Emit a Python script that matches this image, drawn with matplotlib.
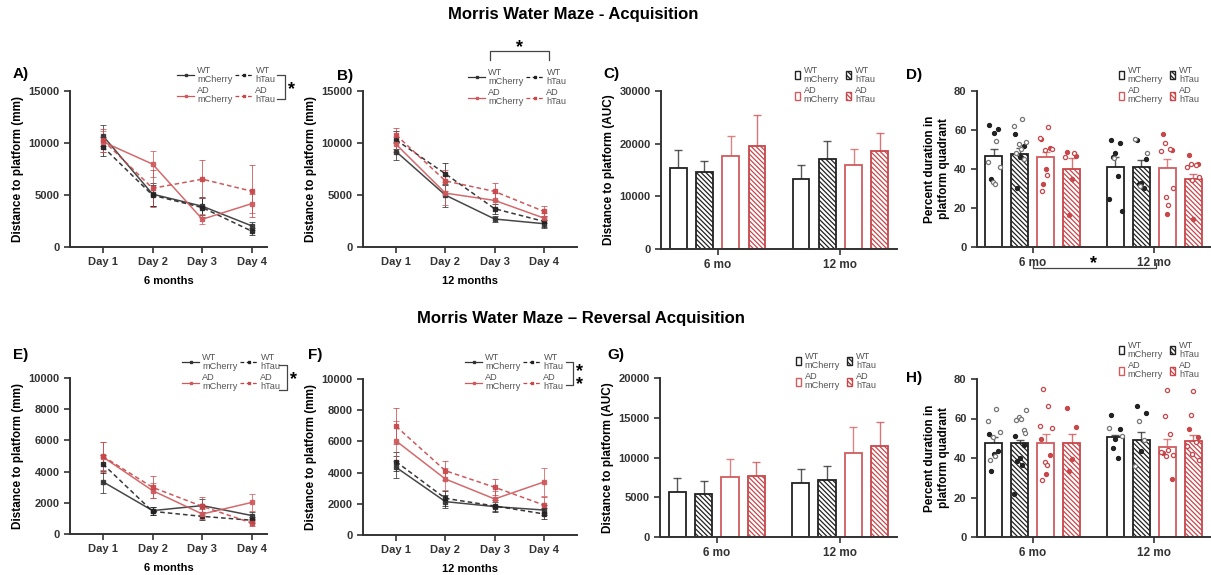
import numpy as np
import matplotlib
matplotlib.use('Agg')
import matplotlib.pyplot as plt
from matplotlib.lines import Line2D
from matplotlib.patches import Patch

plt.rcParams['font.family'] = ['Liberation Sans', 'DejaVu Sans']
plt.rcParams['hatch.linewidth'] = 0.9

W, H = 1211, 575

# ---- data ----
DAYS = ['Day 1', 'Day 2', 'Day 3', 'Day 4']
AGES = ['6 mo', '12 mo']
SERIES = ['WT mCherry', 'WT hTau', 'AD mCherry', 'AD hTau']

# acquisition, 6 months (A)
A_MEANS = [[10700, 5080, 3920, 2020],
           [9640, 4980, 3790, 1510],
           [10120, 7970, 2670, 4180],
           [10280, 5650, 6520, 5360]]
A_ERRS = [[1000, 1100, 850, 400],
          [900, 1000, 900, 350],
          [1000, 1250, 500, 950],
          [1100, 1800, 1800, 2500]]
# acquisition, 12 months (B)
B_MEANS = [[9180, 4990, 2690, 2240],
           [10300, 7040, 3680, 2460],
           [9880, 5180, 4480, 2780],
           [10780, 6360, 5340, 3420]]
B_ERRS = [[800, 1100, 300, 400],
          [900, 1050, 500, 500],
          [700, 1100, 700, 500],
          [700, 1000, 800, 500]]
# AUC (C)
C_MEANS_6 = [15290, 14530, 17750, 19650]
C_ERRS_6 = [3600, 2200, 3800, 5700]
C_MEANS_12 = [13270, 17060, 15860, 18700]
C_ERRS_12 = [2700, 3540, 3220, 3280]
# probe (D)
D_MEANS_6 = [46.6, 47.9, 45.9, 39.9]
D_ERRS_6 = [3.9, 3.0, 2.9, 5.5]
D_MEANS_12 = [40.8, 41.1, 40.6, 34.9]
D_ERRS_12 = [5.1, 3.4, 4.3, 2.6]
D_FILLED_6 = [[62.5, 60.5, 58.6, 34.8], [58, 52, 46, 30],
              [55.6, 50.8, 40.2, 32.4], [48.8, 46.7, 35.1, 16.3]]
D_OPEN_6 = [[54.5, 43.7, 41.1, 33.4, 32.2], [65.4, 62, 54, 52.7, 50, 48, 45],
            [61.6, 56, 50.2, 49.6, 36.8, 28.8], [48, 46.2]]
D_FILLED_12 = [[55.1, 53.4, 48.3, 45.9, 36.3, 24.8, 18.5], [54.8, 45.2, 33, 32.2, 30],
               [57.9, 49.7, 17.1], [47.2, 42.5, 14.6]]
D_OPEN_12 = [[45.7], [55.6, 48, 31.2],
             [53.1, 50.5, 49.3, 30, 25.7, 21.4], [42.8, 42, 41.1, 36, 34.2]]

# reversal, 6 months (E)
E_MEANS = [[3350, 1500, 1820, 1180],
           [4490, 1450, 1130, 880],
           [4940, 2780, 1280, 2030],
           [4980, 2990, 1770, 700]]
E_ERRS = [[700, 250, 400, 250],
          [600, 250, 250, 200],
          [950, 500, 350, 530],
          [900, 700, 600, 200]]
# reversal, 12 months (F)
F_MEANS = [[4340, 2140, 1820, 1600],
           [4700, 2350, 1860, 1350],
           [6030, 3590, 2310, 3400],
           [6970, 4120, 3060, 1920]]
F_ERRS = [[700, 400, 300, 300],
          [600, 500, 400, 350],
          [1300, 700, 500, 870],
          [1150, 600, 500, 500]]
# reversal AUC (G)
G_MEANS_6 = [5600, 5430, 7580, 7660]
G_ERRS_6 = [1770, 1600, 2270, 1810]
G_MEANS_12 = [6780, 7120, 10570, 11490]
G_ERRS_12 = [1720, 1760, 3280, 2950]
# reversal probe (H)
H_MEANS_6 = [47.6, 47.6, 47.6, 47.6]
H_ERRS_6 = [3.0, 1.7, 4.7, 4.7]
H_MEANS_12 = [50.6, 49.3, 45.6, 48.4]
H_ERRS_12 = [1.2, 3.7, 4.0, 3.4]
H_FILLED_6 = [[52.3, 43.5, 41.8, 33.4], [51, 46.8, 40, 38.3, 36.6, 22],
              [49.6, 41.3, 32], [65.4, 55.7, 39.3, 33.4]]
H_OPEN_6 = [[64.8, 58.6, 53, 50.6, 41, 38.8], [64.5, 60.7, 59.7, 59, 54.3, 52.7],
            [75.1, 66.2, 56, 55.2, 37.9, 36.6, 29], []]
H_FILLED_12 = [[61.6, 54.7, 49.8, 45.1, 40], [66.5, 62.8, 43.4],
               [42.5, 29.5], [54.7, 50.6]]
H_OPEN_12 = [[55.2, 51], [58.6, 49.3, 35.8],
             [74.3, 61.4, 52.2, 43, 41.7, 40.8, 44], [73.8, 61.9, 47.9, 46.2, 39.1, 42]]

# ---- styles ----
BLACK = '#222222'
RED = '#c8474b'
HATCH = '\\' * 7
LINE_STYLE = {
    'WT mCherry': dict(color='#333333', ls='-'),
    'WT hTau': dict(color=BLACK, ls=(0, (3, 2))),
    'AD mCherry': dict(color='#cf5a5d', ls='-'),
    'AD hTau': dict(color=RED, ls=(0, (3, 2))),
}
BAR_STYLE = {
    'WT mCherry': dict(color=BLACK, hatch=None),
    'WT hTau': dict(color=BLACK, hatch=HATCH),
    'AD mCherry': dict(color='#d05c5f', hatch=None),
    'AD hTau': dict(color=RED, hatch=HATCH),
}
LEG_ORDER = ['WT mCherry', 'AD mCherry', 'WT hTau', 'AD hTau']

fig = plt.figure(figsize=(W / 100, H / 100), dpi=100)


def rect(l, t, r, b):
    return [l / W, 1 - b / H, (r - l) / W, (b - t) / H]


def ftext(x, y, s, **kw):
    fig.text(x / W, 1 - y / H, s, **kw)


def fline(xs, ys, **kw):
    fig.add_artist(Line2D([x / W for x in xs], [1 - y / H for y in ys],
                          transform=fig.transFigure, color='#444444', lw=0.9, **kw))


def base_axes(ax, yticks, ylabel):
    for s in ['top', 'right']:
        ax.spines[s].set_visible(False)
    for s in ['left', 'bottom']:
        ax.spines[s].set_linewidth(1.4)
        ax.spines[s].set_color('#333333')
    ax.tick_params(width=1.2, length=4, colors='#333333')
    ax.set_yticks(yticks, labels=[str(v) for v in yticks], fontweight='bold', fontsize=8)
    ax.set_ylim(0, yticks[-1])
    ax.set_ylabel(ylabel, fontweight='bold', fontsize=8.5, labelpad=3)


def add_legend(ax, handles, xy, **kw):
    leg = ax.legend(handles, [s.replace(' ', '\n') for s in LEG_ORDER], ncol=2,
                    loc='upper left', bbox_to_anchor=(xy[0] / W, 1 - xy[1] / H),
                    bbox_transform=fig.transFigure, frameon=False, fontsize=6.6,
                    labelspacing=0.25, borderpad=0, borderaxespad=0, **kw)
    for t in leg.get_texts():
        t.set_color('#555555')
        t.set_linespacing(1.0)
    return leg


def line_panel(r, means, errs, yticks, xlim, xlabel, leg_xy):
    ax = fig.add_axes(r)
    x = np.arange(len(DAYS))
    for name, m, e in zip(SERIES, means, errs):
        st = LINE_STYLE[name]
        ax.errorbar(x, m, yerr=e, color=st['color'], ls=st['ls'], lw=1.1,
                    marker='s', ms=3, capsize=2, elinewidth=0.6, capthick=0.6,
                    ecolor=st['color'], alpha=0.9)
    base_axes(ax, yticks, 'Distance to platform (mm)')
    ax.set_xticks(x, labels=DAYS, fontweight='bold', fontsize=8)
    ax.set_xlim(*xlim)
    ax.set_xlabel(xlabel, fontweight='bold', fontsize=8, labelpad=6)
    handles = [Line2D([], [], color=LINE_STYLE[n]['color'], ls=LINE_STYLE[n]['ls'],
                      lw=0.9, marker='s', ms=1.5) for n in LEG_ORDER]
    add_legend(ax, handles, leg_xy, handlelength=1.9, handletextpad=0.3,
               columnspacing=0.3)
    return ax


BW, SP = 0.138, 0.214
JIT = [-0.55, 0.55, 0.0, -0.3, 0.3, -0.75, 0.75, -0.15, 0.15, -0.45, 0.45, 0.65, -0.65]


def bar_panel(r, m6, e6, m12, e12, yticks, ylabel, leg_xy, filled=None, opened=None):
    ax = fig.add_axes(r)
    for g, (means, errs) in enumerate([(m6, e6), (m12, e12)]):
        for k, name in enumerate(SERIES):
            st = BAR_STYLE[name]
            xc = g + (k - 1.5) * SP
            ax.bar(xc, means[k], width=BW, facecolor='white', edgecolor=st['color'],
                   hatch=st['hatch'], lw=1.3, zorder=2)
            ax.errorbar(xc, means[k], yerr=[[0], [errs[k]]], color=st['color'],
                        capsize=3, lw=1.0, capthick=1.0, alpha=0.75, zorder=1)
            if filled is not None:
                fv = filled[g][k]
                ov = opened[g][k]
                vals = fv + ov
                off = np.array(JIT[:len(vals)]) * BW * 0.5
                ec = '#222222' if name.startswith('WT') else RED
                oc = '#777777' if name.startswith('WT') else RED
                ax.scatter(xc + off[:len(fv)], fv, s=9, facecolor=ec, edgecolor=ec,
                           lw=0.8, zorder=3)
                ax.scatter(xc + off[len(fv):], ov, s=9, facecolor='white', edgecolor=oc,
                           lw=0.9, zorder=3)
    base_axes(ax, yticks, ylabel)
    ax.set_xticks([0, 1], labels=AGES, fontweight='bold', fontsize=8.5)
    ax.set_xlim(-0.46, 1.46)
    handles = [Patch(facecolor='white', edgecolor=BAR_STYLE[n]['color'],
                     hatch=BAR_STYLE[n]['hatch'], lw=1.0) for n in LEG_ORDER]
    add_legend(ax, handles, leg_xy, handlelength=0.55, handleheight=1.0,
               handletextpad=0.4, columnspacing=0.8)
    return ax


# ---- titles ----
ftext(573, 15, 'Morris Water Maze - Acquisition', ha='center', va='center',
      fontsize=12, fontweight='bold')
ftext(581, 318, 'Morris Water Maze \u2013 Reversal Acquisition', ha='center', va='center',
      fontsize=12, fontweight='bold')

# ---- top row ----
line_panel(rect(70, 91, 267, 247), A_MEANS, A_ERRS, [0, 5000, 10000, 15000],
           (-0.66, 3.3), '6 months', (177, 66))
line_panel(rect(363, 91, 577, 247), B_MEANS, B_ERRS, [0, 5000, 10000, 15000],
           (-0.67, 3.67), '12 months', (468, 68))
bar_panel(rect(661, 91, 897, 249), C_MEANS_6, C_ERRS_6, C_MEANS_12, C_ERRS_12,
          [0, 10000, 20000, 30000], 'Distance to platform (AUC)', (795, 66))
bar_panel(rect(977, 91, 1210, 247), D_MEANS_6, D_ERRS_6, D_MEANS_12, D_ERRS_12,
          [0, 20, 40, 60, 80], 'Percent duration in\nplatform quadrant', (1119, 66),
          filled=[D_FILLED_6, D_FILLED_12], opened=[D_OPEN_6, D_OPEN_12])

# ---- bottom row ----
line_panel(rect(70, 378, 267, 534), E_MEANS, E_ERRS, [0, 2000, 4000, 6000, 8000, 10000],
           (-0.66, 3.3), '6 months', (182, 353))
line_panel(rect(363, 379, 577, 535), F_MEANS, F_ERRS, [0, 2000, 4000, 6000, 8000, 10000],
           (-0.67, 3.67), '12 months', (465, 353))
bar_panel(rect(660, 378, 897, 537), G_MEANS_6, G_ERRS_6, G_MEANS_12, G_ERRS_12,
          [0, 5000, 10000, 15000, 20000], 'Distance to platform (AUC)', (796, 352))
bar_panel(rect(977, 379, 1210, 537), H_MEANS_6, H_ERRS_6, H_MEANS_12, H_ERRS_12,
          [0, 20, 40, 60, 80], 'Percent duration in\nplatform quadrant', (1119, 341),
          filled=[H_FILLED_6, H_FILLED_12], opened=[H_OPEN_6, H_OPEN_12])

# ---- panel letters ----
for lab, x, y in [('A)', 13, 74), ('B)', 337, 76), ('C)', 603, 74), ('D)', 906, 75),
                  ('E)', 13, 355), ('F)', 308, 355), ('G)', 607, 355), ('H)', 906, 378)]:
    ftext(x, y, lab, ha='left', va='center', fontsize=11, fontweight='bold')

# ---- significance brackets ----
fline([277, 285, 285, 277], [75, 75, 99, 99])
ftext(292, 90, '*', ha='center', va='center', fontsize=13, fontweight='bold')
fline([490, 490, 549, 549], [60, 51, 51, 60])
ftext(520, 48, '*', ha='center', va='center', fontsize=13, fontweight='bold')
fline([1033, 1033, 1156, 1156], [263, 268, 268, 263])
ftext(1094, 264, '*', ha='center', va='center', fontsize=13, fontweight='bold')
fline([279, 287, 287, 279], [365, 365, 390, 390])
ftext(294, 380, '*', ha='center', va='center', fontsize=13, fontweight='bold')
fline([566, 573, 573, 566], [362, 362, 385, 385])
ftext(580, 378, '*\n*', ha='center', va='center', fontsize=13, fontweight='bold',
      linespacing=0.7)

fig.savefig('out.png', dpi=100)
